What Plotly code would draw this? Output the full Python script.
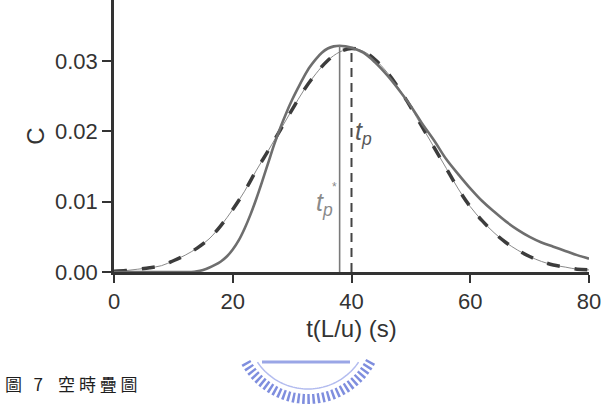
import numpy as np
import plotly.graph_objects as go

# ---------------- data ----------------
t_solid = [0, 5, 10, 13, 14, 15, 16, 17, 18, 19, 20, 21, 22, 23, 24, 25, 26, 27, 28, 29,
           30, 31, 32, 33, 34, 35, 36, 37, 38, 39, 40, 42, 44, 46, 48, 50, 52, 54, 56, 58,
           60, 62, 64, 66, 68, 70, 72, 74, 76, 78, 80]
c_solid = [0.0, 0.0, 0.0, 0.0, 0.0001, 0.0003, 0.0006, 0.0010, 0.0015, 0.0022, 0.0032, 0.0045,
           0.0062, 0.0082, 0.0105, 0.0130, 0.0156, 0.0182, 0.0205, 0.0226, 0.0245, 0.0262,
           0.0278, 0.0292, 0.0303, 0.0312, 0.0318, 0.0321, 0.0322, 0.0321, 0.0319, 0.0312,
           0.0298, 0.0280, 0.0259, 0.0236, 0.0210, 0.0186, 0.0160, 0.0139, 0.0119, 0.0101,
           0.0086, 0.0072, 0.0060, 0.0050, 0.0042, 0.0036, 0.0030, 0.0024, 0.0019]

t_dash = [0, 2, 4, 6, 8, 10, 12, 14, 16, 18, 20, 22, 24, 26, 28, 30, 32, 34, 36, 38, 40,
          42, 44, 46, 48, 50, 52, 54, 56, 58, 60, 62, 64, 66, 68, 70, 72, 74, 76, 78, 80]
c_dash = [0.0001, 0.0002, 0.0004, 0.0006, 0.0009, 0.0016, 0.0024, 0.0034, 0.0047, 0.0066,
          0.0089, 0.0115, 0.0145, 0.0173, 0.0202, 0.0231, 0.0259, 0.0282, 0.0301, 0.0313,
          0.0318, 0.0314, 0.0302, 0.0284, 0.0261, 0.0234, 0.0205, 0.0176, 0.0147, 0.0118,
          0.0093, 0.0073, 0.0056, 0.0042, 0.0031, 0.0022, 0.0015, 0.0010, 0.0007, 0.0004,
          0.0003]

tp_star = 38.0      # peak time of solid curve
c_tp_star = 0.0322
tp = 40.0           # peak time of dashed curve
c_tp = 0.0318

x_ticks = [0, 20, 40, 60, 80]
y_ticks = [0.00, 0.01, 0.02, 0.03]
y_tick_text = ["0.00", "0.01", "0.02", "0.03"]

x_title = "t(L/u) (s)"
y_title = "C"
caption = "圖\u00a0\u00a0\u00a07\u00a0\u00a0\u00a0\u00a0空\u00a0時\u00a0疊\u00a0圖"

# ---------------- figure ----------------
W, H = 608, 410
ML, MR, MT, MB = 114, 19, 0, 138
PW, PH = W - ML - MR, H - MT - MB

FONT = "Liberation Sans, Arial, Helvetica, sans-serif"

fig = go.Figure()

# dashed curve: thin connecting line + thick dashes
fig.add_trace(go.Scatter(x=t_dash, y=c_dash, mode="lines", line_shape="spline",
                         line=dict(color="#8a8a8a", width=1), hoverinfo="skip", showlegend=False))
fig.add_trace(go.Scatter(x=t_dash, y=c_dash, mode="lines", line_shape="spline",
                         line=dict(color="#3c3c3c", width=3.5, dash="13px,15px"),
                         showlegend=False))
# solid curve
fig.add_trace(go.Scatter(x=t_solid, y=c_solid, mode="lines", line_shape="spline",
                         line=dict(color="#6e6e6e", width=2.6), showlegend=False))
# vertical marker lines
fig.add_trace(go.Scatter(x=[tp_star, tp_star], y=[0, c_tp_star], mode="lines",
                         line=dict(color="#7a7a7a", width=1.6), showlegend=False))
fig.add_trace(go.Scatter(x=[tp, tp], y=[0, c_tp], mode="lines",
                         line=dict(color="#444444", width=2, dash="9px,6px"), showlegend=False))

# labels t_p and t_p*
fig.add_annotation(x=tp, y=0.0198, xref="x", yref="y", xanchor="left", yanchor="middle",
                   xshift=1, text="<i>t<sub>p</sub></i>", showarrow=False,
                   font=dict(family=FONT, size=25, color="#585858"))
fig.add_annotation(x=tp_star, y=0.0097, xref="x", yref="y", xanchor="right", yanchor="middle",
                   xshift=-5, text="<i>t<sub>p</sub></i>", showarrow=False,
                   font=dict(family=FONT, size=25, color="#8a8a8a"))
fig.add_annotation(x=tp_star, y=0.0121, xref="x", yref="y", xanchor="right", yanchor="middle",
                   xshift=-1, text="*", showarrow=False,
                   font=dict(family=FONT, size=12, color="#8a8a8a"))

# caption
def px2paper(px, py):
    return (px - ML) / PW, (H - MB - py) / PH

cx, cy = px2paper(3, 383)
fig.add_annotation(x=cx, y=cy, xref="paper", yref="paper", xanchor="left", yanchor="middle",
                   text=caption, showarrow=False,
                   font=dict(family="Noto Sans CJK TC, Noto Sans CJK SC", size=17, color="#1e1e1e"))

# watermark logo (decoration)
def arc_path(xc, yc, r, a0, a1, n=60):
    ang = np.radians(np.linspace(a0, a1, n))
    pts = [px2paper(xc + r * np.cos(a), yc + r * np.sin(a)) for a in ang]
    return "M " + " L ".join(f"{x:.5f},{y:.5f}" for x, y in pts)

LX, LY = 308, 328
fig.add_shape(type="path", xref="paper", yref="paper", path=arc_path(LX, LY, 71, 28, 152),
              line=dict(color="#7f8ede", width=10, dash="2.5px,2.5px"), layer="below")
fig.add_shape(type="path", xref="paper", yref="paper", path=arc_path(LX, LY, 61, 34, 146),
              line=dict(color="#b3bcef", width=1.5), layer="below")
x0, y0 = px2paper(262, 362)
x1, y1 = px2paper(350, 362)
fig.add_shape(type="line", xref="paper", yref="paper", x0=x0, y0=y0, x1=x1, y1=y1,
              line=dict(color="#9aa6e6", width=3), layer="below")

fig.update_layout(
    width=W, height=H, margin=dict(l=ML, r=MR, t=MT, b=MB, pad=0),
    paper_bgcolor="white", plot_bgcolor="white",
    font=dict(family=FONT, color="#333333"),
    showlegend=False,
)
fig.update_xaxes(range=[0, 80], tickvals=x_ticks, ticks="outside", ticklen=8, tickwidth=1.5,
                 tickcolor="#333333", showline=True, linecolor="#333333", linewidth=2.5,
                 showgrid=False, zeroline=False, tickfont=dict(size=22, color="#333333"),
                 title=dict(text=x_title, font=dict(size=24, color="#333333"), standoff=8))
fig.update_yaxes(range=[0, 0.0387], tickvals=y_ticks, ticktext=y_tick_text, ticks="outside",
                 ticklen=9, tickwidth=1.5, tickcolor="#333333", showline=True,
                 linecolor="#333333", linewidth=2.5, showgrid=False, zeroline=False,
                 tickfont=dict(size=22, color="#333333"),
                 title=dict(text=y_title, font=dict(size=24, color="#333333"), standoff=4))

fig.write_html("out.html")
